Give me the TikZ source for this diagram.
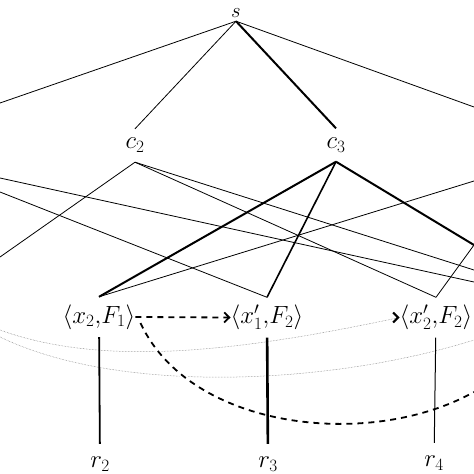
\documentclass[tikz,border=0pt]{standalone}
\usetikzlibrary{arrows.meta}
\begin{document}
\begin{tikzpicture}[x=1pt,y=-1pt]
        \useasboundingbox (0,0) rectangle (474,474);

        \begin{scope}[every node/.style={inner sep=0pt,font=\fontsize{25}{30}\selectfont}]
          \node[minimum height=15pt,font=\fontsize{21}{25}\selectfont] (s) at (236,13.5) {$s$};
          \node[minimum height=33pt] (c2) at (135,145.5) {$c_2$};
          \node[minimum height=33pt] (c3) at (336,145)   {$c_3$};
          \node[minimum height=40pt] (a)  at (99,317)    {$\langle x_2{,}F_1\rangle$};
          \node[minimum height=40pt] (b)  at (267,317.5) {$\langle x'_1{,}F_2\rangle$};
          \node[minimum height=40pt] (c)  at (436,317.5) {$\langle x'_2{,}F_2\rangle$};
          \node[minimum height=40pt] (r2) at (100,464)   {$r_2$};
          \node[minimum height=40pt] (r3) at (268,464)   {$r_3$};
          \node[minimum height=40pt] (r4) at (434,463)   {$r_4$};
        \end{scope}

        % ends outside the frame
        \coordinate (w1) at (0,103);
        \coordinate (w2) at (0,257);
        \coordinate (w3) at (0,178);
        \coordinate (w4) at (0,192);
        \coordinate (w5) at (0,330);
        \coordinate (w6) at (0,337);
        \coordinate (e1) at (474,107);
        \coordinate (e2) at (474,282);
        \coordinate (e3) at (474,270);
        \coordinate (e4) at (474,181);
        \coordinate (e5) at (474,340);
        \coordinate (e6) at (474,392);
        \coordinate (d)  at (474,245);

        \begin{scope}[every edge/.style={draw,line width=0.8pt}]
          \path (s.south)  edge (w1);
          \path (s.south)  edge (c2.north);
          \path (s.south)  edge[line width=2pt] (c3.north);
          \path (s.south)  edge (e1);
          \path (c2.south) edge (w2);
          \path (w3)       edge (e2);
          \path (w4)       edge (b.north);
          \path (c2.south) edge (e3);
          \path (c2.south) edge (c.north);
          \path (c3.south) edge[line width=2pt] (a.north);
          \path (c3.south) edge[line width=1.6pt] (b.north);
          \path (c3.south) edge[line width=2pt] (d);
          \path (a.north)  edge (e4);
          \path (d)        edge (c.north);
        \end{scope}

        \begin{scope}[black!55,line width=0.5pt,densely dotted]
          \draw (w5) .. controls (110,370) and (255,348) .. (c.west);
          \draw (w6) .. controls (120,395) and (330,385) .. (e5);
        \end{scope}
        \draw[black,line width=2pt,-{Straight Barb[length=5pt,width=10pt]}]
          ([xshift=-2pt]c.west) -- (c.west);

        \begin{scope}[line width=1.8pt,dash pattern=on 6pt off 5pt]
          \draw[-{Straight Barb[length=5pt,width=10pt]}] (a.east) -- (b.west);
          \draw[preaction={draw,white,solid,line width=5pt}]
            ([xshift=5pt,yshift=-6pt]a.east) .. controls (190,430) and (370,450) .. (e6);
        \end{scope}

        \path (a) edge[draw,line width=1.8pt] (r2);
        \path (b) edge[draw,line width=2.6pt] (r3);
        \path (c) edge[draw,line width=1pt]   (r4);

      \end{tikzpicture}
\end{document}
